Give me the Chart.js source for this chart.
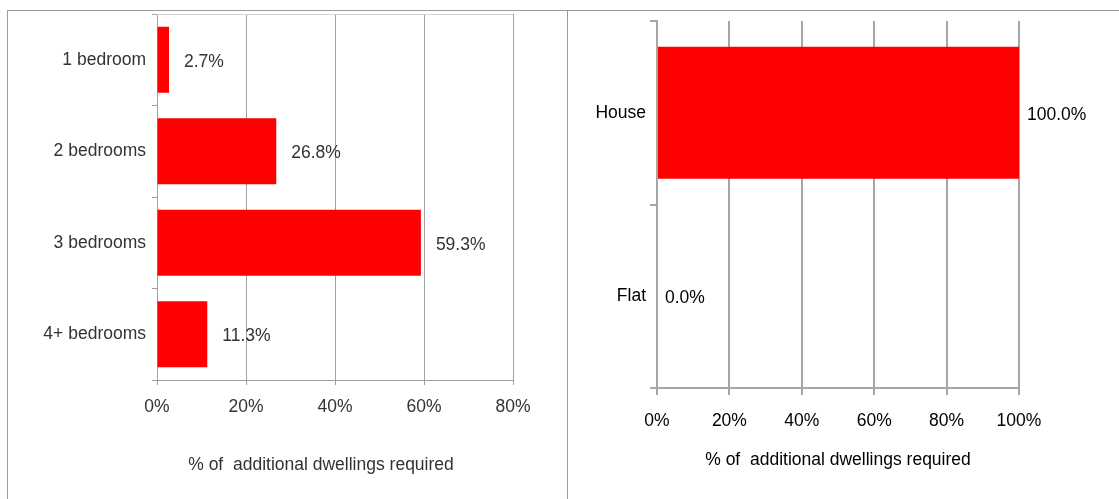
<!DOCTYPE html>
<html>
<head>
<meta charset="utf-8">
<script src="https://cdn.jsdelivr.net/npm/chart.js@4"></script>
<style>
    body { margin: 0; background: #fff; }
    #frame { position: absolute; left: 7px; top: 10px; width: 1112px; height: 489px;
             border-top: 1px solid #9c9c9c; border-left: 1px solid #9c9c9c; box-sizing: border-box; }
    #divider { position: absolute; left: 567px; top: 10px; width: 1px; height: 489px; background: #9c9c9c; }
    #leftBox { position: absolute; left: 8px; top: 11px; width: 559px; height: 488px; }
    #rightBox { position: absolute; left: 569px; top: 11px; width: 550px; height: 488px; }
</style>
</head>
<body>
<div id="frame"></div>
<div id="divider"></div>
<div id="leftBox"><canvas id="bedroomChart"></canvas></div>
<div id="rightBox"><canvas id="typeChart"></canvas></div>
<script>
// Bedroom sizes (left chart)
const bedroomLabels = ['1 bedroom', '2 bedrooms', '3 bedrooms', '4+ bedrooms'];
const bedroomValues = [2.7, 26.8, 59.3, 11.3];
const bedroomTicks = [0, 20, 40, 60, 80];

// Dwelling types (right chart)
const typeLabels = ['House', 'Flat'];
const typeValues = [100.0, 0.0];
const typeTicks = [0, 20, 40, 60, 80, 100];

const axisTitle = '% of  additional dwellings required';
const FONT = "'Liberation Sans', Arial, sans-serif";
const FONT_SIZE = 17.5;

Chart.defaults.font.family = FONT;
Chart.defaults.font.size = FONT_SIZE;

// draws the value next to the end of each bar
const valueLabels = {
    id: 'valueLabels',
    afterDatasetsDraw(chart, args, opts) {
        const ctx = chart.ctx;
        const meta = chart.getDatasetMeta(0);
        const data = chart.data.datasets[0].data;
        ctx.save();
        ctx.font = FONT_SIZE + 'px ' + FONT;
        ctx.fillStyle = opts.color;
        ctx.textAlign = 'left';
        ctx.textBaseline = 'middle';
        meta.data.forEach((bar, i) => {
            ctx.fillText(data[i].toFixed(1) + '%', bar.x + opts.offset, bar.y + 2);
        });
        ctx.restore();
    }
};

// x axis caption, centred under the plot with an optional sideways shift
const axisCaption = {
    id: 'axisCaption',
    afterDraw(chart, args, opts) {
        const {ctx, chartArea} = chart;
        ctx.save();
        ctx.font = FONT_SIZE + 'px ' + FONT;
        ctx.fillStyle = opts.color;
        ctx.textAlign = 'center';
        ctx.textBaseline = 'middle';
        ctx.fillText(axisTitle, (chartArea.left + chartArea.right) / 2 + opts.shift, chart.height - opts.fromBottom);
        ctx.restore();
    }
};

// faint frame line along the top of the left plot
const topFrame = {
    id: 'topFrame',
    beforeDatasetsDraw(chart) {
        const {ctx, chartArea} = chart;
        ctx.save();
        ctx.strokeStyle = '#d0d0d0';
        ctx.lineWidth = 1;
        ctx.beginPath();
        ctx.moveTo(chartArea.left, chartArea.top + 0.5);
        ctx.lineTo(chartArea.right, chartArea.top + 0.5);
        ctx.stroke();
        ctx.restore();
    }
};

function makeChart(id, labels, values, ticks, cfg) {
    return new Chart(document.getElementById(id), {
        type: 'bar',
        data: {
            labels: labels,
            datasets: [{
                data: values,
                backgroundColor: '#ff0000',
                borderWidth: 0,
                barPercentage: 0.72,
                categoryPercentage: 1
            }]
        },
        options: {
            indexAxis: 'y',
            responsive: true,
            maintainAspectRatio: false,
            animation: false,
            layout: { padding: { top: cfg.padTop, right: cfg.padRight, left: 0, bottom: 0 } },
            plugins: {
                legend: { display: false },
                tooltip: { enabled: false },
                valueLabels: { color: cfg.textColor, offset: cfg.labelOffset },
                axisCaption: { color: cfg.textColor, shift: cfg.titleShift, fromBottom: cfg.titleFromBottom }
            },
            scales: {
                x: {
                    min: 0,
                    max: ticks[ticks.length - 1],
                    afterBuildTicks: scale => { scale.ticks = ticks.map(v => ({ value: v })); },
                    afterFit: scale => { scale.height = cfg.xHeight; },
                    grid: { color: cfg.gridColor, lineWidth: cfg.gridWidth, tickLength: cfg.tickLen },
                    border: { color: cfg.gridColor, width: cfg.gridWidth },
                    ticks: {
                        color: cfg.textColor,
                        padding: cfg.tickPad,
                        callback: v => v + '%'
                    }
                },
                y: {
                    afterFit: scale => {
                        scale.width = cfg.yWidth;
                        scale.paddingTop = 0;
                        scale.paddingBottom = 0;
                    },
                    grid: { drawOnChartArea: false, offset: true, color: cfg.gridColor, lineWidth: cfg.gridWidth, tickLength: cfg.tickLen },
                    border: { color: cfg.gridColor, width: cfg.gridWidth },
                    ticks: { color: cfg.textColor, padding: cfg.yPad }
                }
            }
        },
        plugins: cfg.extra ? [valueLabels, axisCaption, cfg.extra] : [valueLabels, axisCaption]
    });
}

makeChart('bedroomChart', bedroomLabels, bedroomValues, bedroomTicks, {
    padTop: 3, padRight: 54, xHeight: 119, yWidth: 149,
    gridColor: '#a0a0a0', gridWidth: 1, tickLen: 5, tickPad: 12, yPad: 6,
    titleShift: -14, titleFromBottom: 34,
    textColor: '#333333', labelOffset: 15, extra: topFrame
});

makeChart('typeChart', typeLabels, typeValues, typeTicks, {
    padTop: 10, padRight: 100, xHeight: 111, yWidth: 88,
    gridColor: '#a6a6a6', gridWidth: 2, tickLen: 7, tickPad: 16, yPad: 4,
    titleShift: 0, titleFromBottom: 39,
    textColor: '#000000', labelOffset: 8
});
</script>
</body>
</html>
